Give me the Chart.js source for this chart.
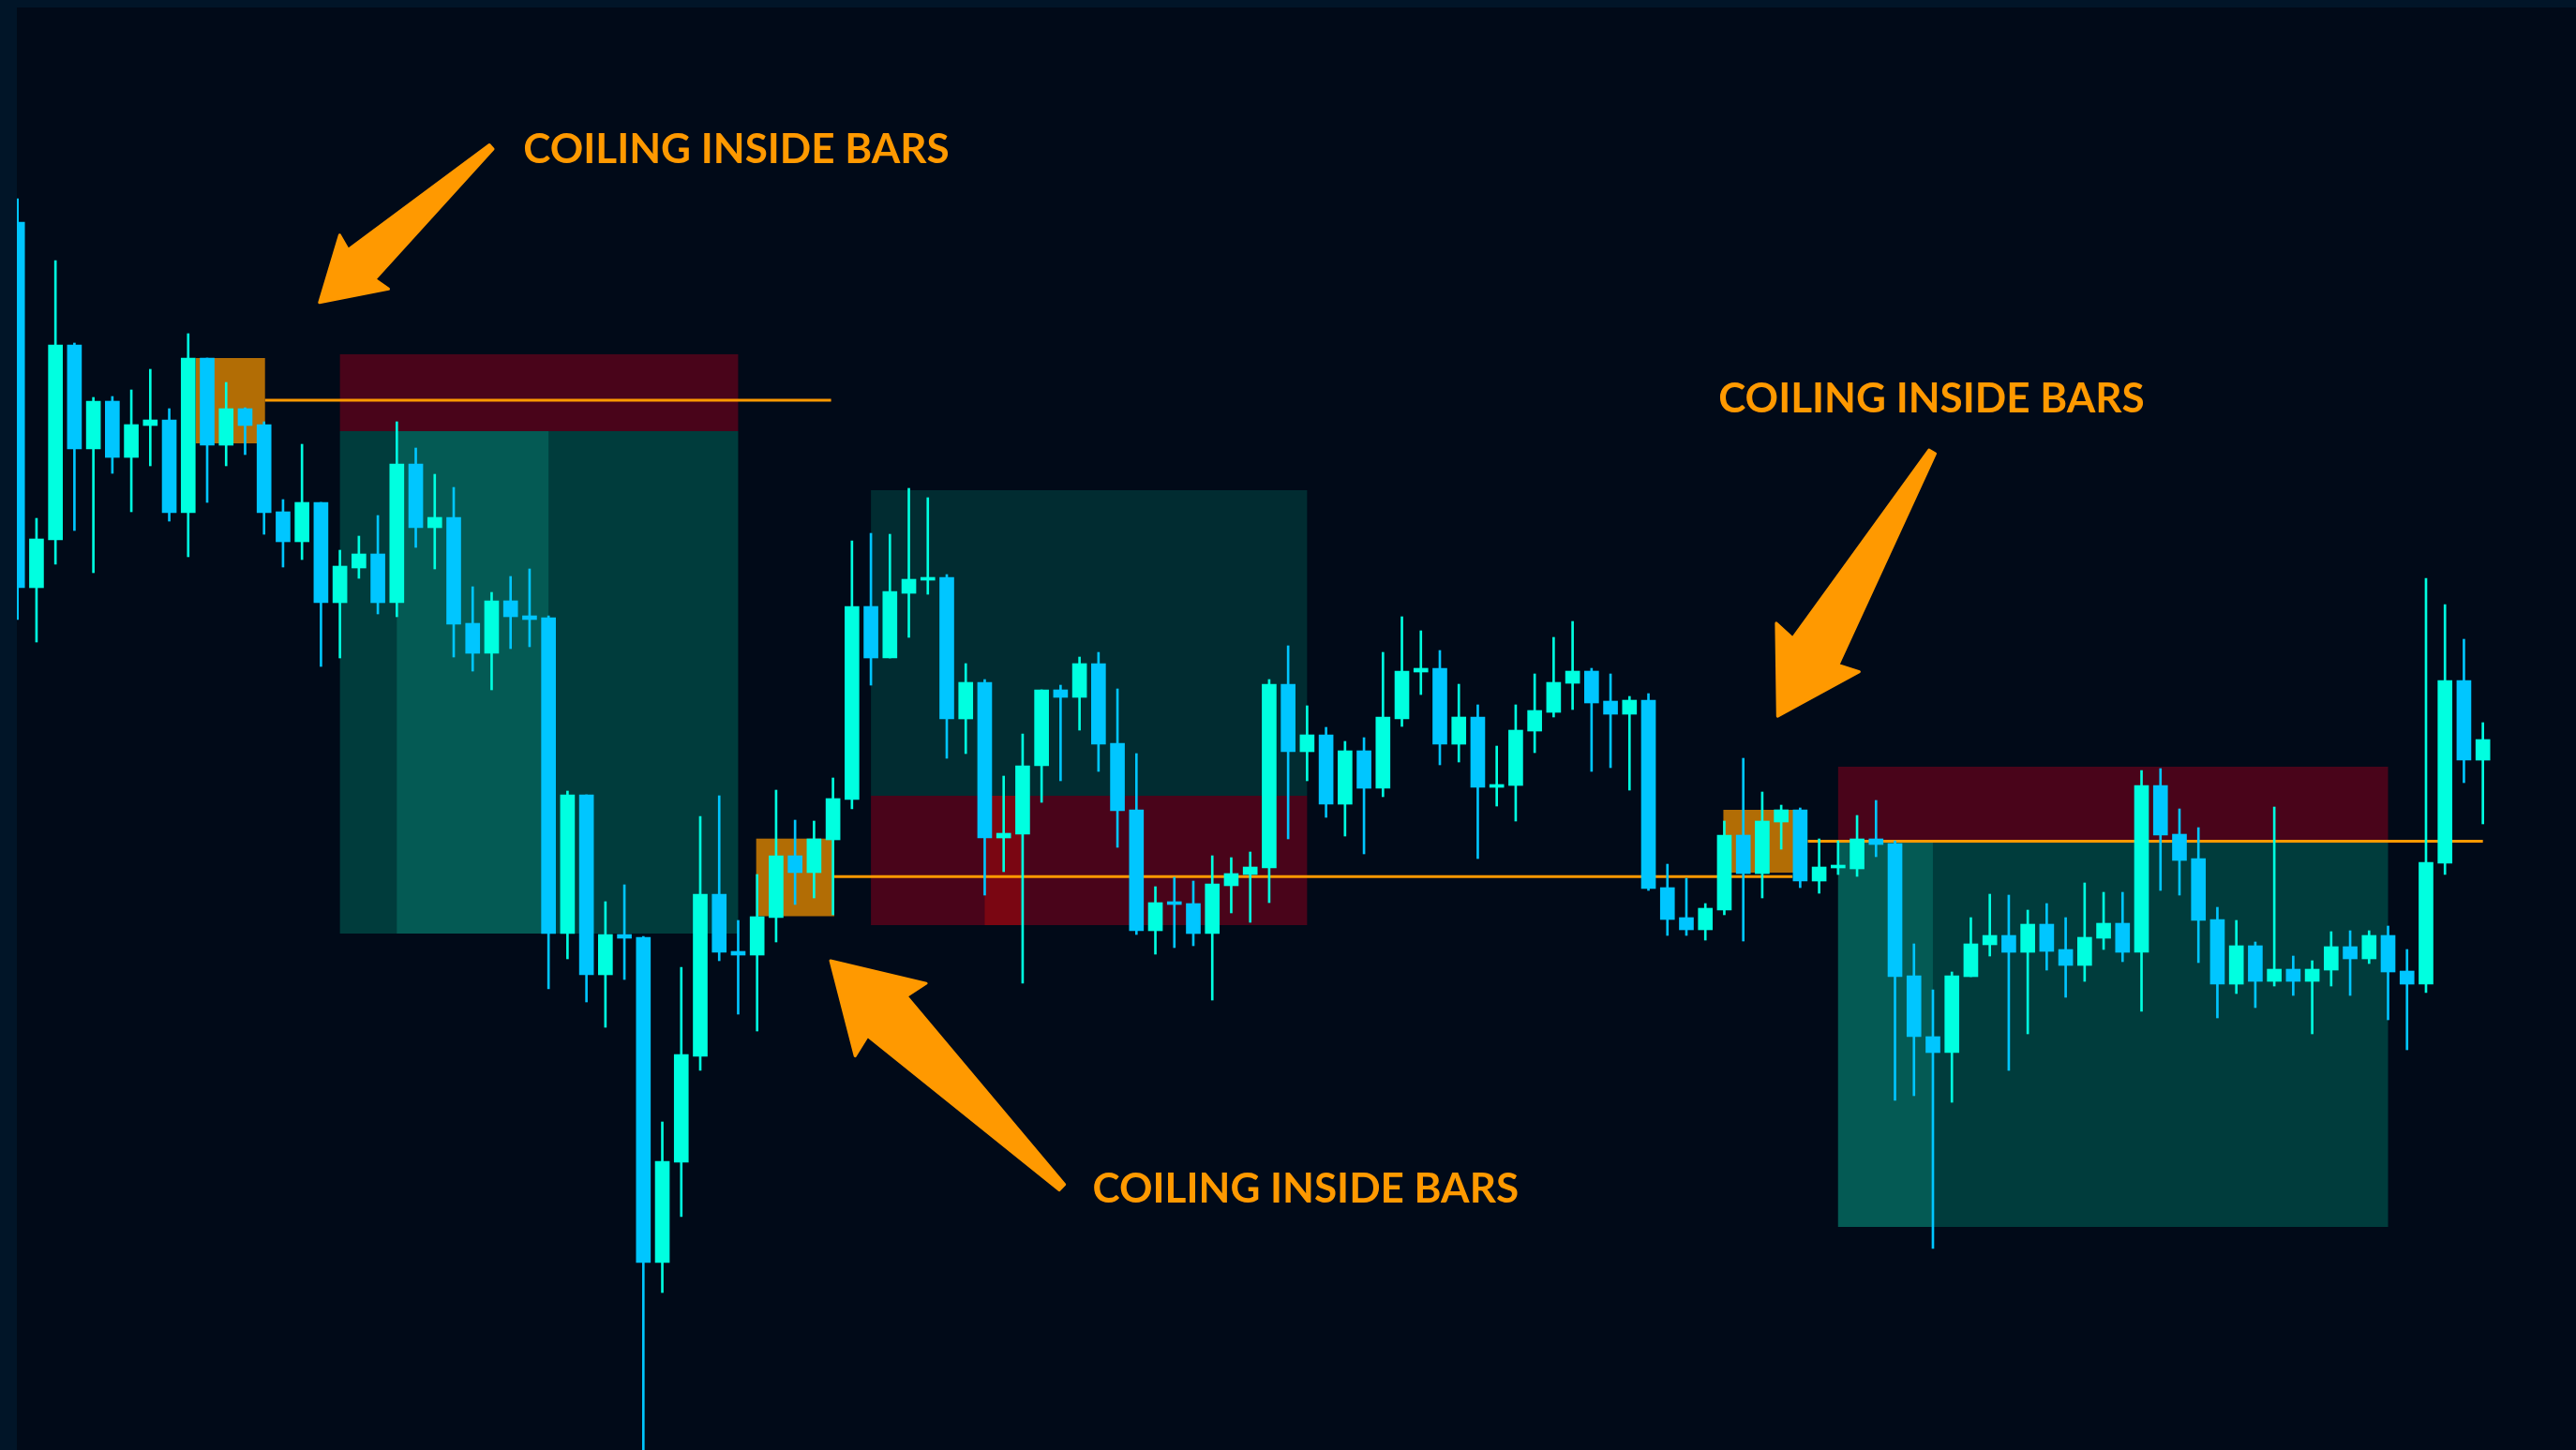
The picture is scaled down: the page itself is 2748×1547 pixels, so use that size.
<!DOCTYPE html>
<html>
<head>
<meta charset="utf-8">
<title>Coiling inside bars</title>
<script src="https://cdn.jsdelivr.net/npm/chart.js@4.4.1/dist/chart.umd.min.js"></script>
<style>
  html, body { margin: 0; padding: 0; background: #010a18; overflow: hidden; }
  canvas { display: block; }
</style>
</head>
<body>
<canvas id="chart" width="2748" height="1547"></canvas>
<script>
// ---- price data (one entry per bar) ----
const opens = [1310,920,971,1179,1068,1119,1059,1093,1099,1000,1165,1072,1111,1094,1001,969,1011,904,941,956,
  904,1052,984,995,882,850,906,890,888,551,699,507,550,547,200,307,420,593,532,528,
  568,634,616,651,694,900,845,914,928,931,780,819,653,657,730,811,803,839,754,683,
  554,585,583,551,602,614,621,817,745,763,689,746,706,780,830,834,753,782,707,709,
  767,787,818,831,799,785,800,600,568,555,576,656,615,670,683,607,621,620,652,647,
  506,441,424,505,539,549,531,561,534,517,546,562,531,709,657,631,566,497,538,500,
  513,500,512,537,524,549,511,497,626,821,736];
const highs = [1335,994,1269,1181,1123,1124,1131,1153,1111,1191,1165,1139,1112,1097,1014,1073,1011,960,975,997,
  1097,1069,1041,1027,921,915,932,940,890,703,699,585,603,548,350,515,676,698,565,614,
  704,672,671,717,970,978,977,1026,1016,934,839,822,719,764,811,816,846,851,812,743,
  601,611,607,634,632,638,822,858,794,771,756,760,851,889,874,853,817,795,751,795,
  828,867,884,834,828,804,807,625,610,583,671,738,702,688,685,652,650,677,693,650,
  540,491,510,568,593,592,576,583,568,605,595,595,725,727,684,664,579,565,542,686,
  527,522,553,554,554,559,534,930,902,865,776];
const lows = [886,862,945,981,936,1042,1001,1050,991,953,1011,1050,1062,977,942,950,836,845,930,892,
  889,963,940,846,831,811,855,857,492,524,478,451,502,-10,168,249,405,522,465,447,
  542,582,589,571,684,816,845,867,913,738,743,592,617,498,691,714,768,724,643,550,
  529,536,538,480,573,563,584,652,714,675,655,636,697,772,806,731,734,631,687,671,
  744,782,790,724,728,704,597,549,549,544,571,543,589,641,600,594,614,612,633,373,
  378,215,371,505,527,405,444,512,483,500,534,521,468,597,592,520,461,487,472,495,
  485,444,495,485,519,459,427,488,614,712,668];
const closes = [920,972,1179,1068,1119,1059,1094,1099,1000,1165,1072,1111,1093,1000,969,1011,904,943,956,904,
  1052,984,995,881,850,906,889,886,551,699,507,550,546,200,308,422,593,531,528,569,
  634,616,652,695,900,845,916,929,931,780,819,653,658,730,811,803,839,753,682,554,
  584,582,551,604,615,622,817,745,763,689,746,706,782,831,834,753,782,707,710,768,
  789,819,831,797,785,800,599,566,555,578,656,615,671,683,607,622,622,652,646,505,
  441,424,506,540,549,531,561,532,517,547,562,531,709,656,629,565,497,538,500,513,
  500,513,537,524,549,510,497,627,821,736,758];

// ---- trade zones (bar index range, price range) ----
const stopZones   = [[17, 38, 1087, 1169], [45, 68, 560, 698], [96, 125, 649.5, 729]];
const targetZones = [[17, 38, 551, 1087], [45, 68, 698, 1024], [96, 125, 238, 649.5]];
const activeTarget = [[20, 28, 551, 1087], [96, 101, 238, 649.5]];
const activeStop   = [[51, 53, 560, 698]];
const coilBoxes    = [[9.4, 13.05, 1074, 1165], [38.95, 43.07, 569.5, 652.3], [89.95, 93.65, 616, 683]];
const coilLevels   = [[13.05, 42.9, 1120], [43.07, 93.6, 611.8], [94.4, 130, 649.5]];

// ---- callouts: [tail bar, tail price, tip bar, tip price] and label anchors ----
const arrows = [[24.98, 1390.3, 15.92, 1224.3], [55.07, 280.3, 42.87, 522], [100.96, 1065, 92.81, 782.9]];
const labelText = 'COILING INSIDE BARS';
const labels = [[26.67, 1372.7], [56.69, 263.7], [89.69, 1106.6]];

const UP = '#00ffe0';
const DOWN = '#00c6ff';
const ORANGE = '#ff9900';

const bars = closes.map((_, i) => i);
const isUp = i => closes[i] >= opens[i];
const colours = bars.map(i => isUp(i) ? UP : DOWN);

const frame = {
  id: 'frame',
  beforeDraw(chart) {
    const { ctx, width, height } = chart;
    ctx.save();
    ctx.fillStyle = '#010a18';
    ctx.fillRect(0, 0, width, height);
    ctx.restore();
  },
  afterDraw(chart) {
    const { ctx, width, height } = chart;
    ctx.save();
    ctx.fillStyle = '#011528';
    ctx.fillRect(0, 0, 18, height);
    ctx.fillRect(0, 0, width, 8);
    ctx.restore();
  }
};

const zones = {
  id: 'zones',
  beforeDatasetsDraw(chart) {
    const { ctx } = chart;
    const X = v => chart.scales.x.getPixelForValue(v);
    const Y = v => chart.scales.y.getPixelForValue(v);
    const rect = (z, fill) => {
      const x0 = X(z[0]), x1 = X(z[1]), y0 = Y(z[3]), y1 = Y(z[2]);
      ctx.fillStyle = fill;
      ctx.fillRect(x0, y0, x1 - x0, y1 - y0);
    };
    ctx.save();
    stopZones.forEach(z => rect(z, '#49041a'));
    targetZones.forEach((z, k) => rect(z, k === 1 ? '#012c31' : '#003c3c'));
    activeTarget.forEach(z => rect(z, '#045a54'));
    activeStop.forEach(z => rect(z, '#7a0612'));
    coilBoxes.forEach(z => rect(z, '#b26d05'));
    ctx.strokeStyle = ORANGE;
    ctx.lineWidth = 3;
    coilLevels.forEach(l => {
      ctx.beginPath();
      ctx.moveTo(X(l[0]), Y(l[2]));
      ctx.lineTo(X(l[1]), Y(l[2]));
      ctx.stroke();
    });
    ctx.restore();
  }
};

const callouts = {
  id: 'callouts',
  afterDatasetsDraw(chart) {
    const { ctx } = chart;
    const X = v => chart.scales.x.getPixelForValue(v);
    const Y = v => chart.scales.y.getPixelForValue(v);
    ctx.save();
    ctx.fillStyle = ORANGE;
    ctx.strokeStyle = ORANGE;
    ctx.lineJoin = 'round';
    ctx.lineWidth = 3;
    arrows.forEach(a => {
      const tx = X(a[0]), ty = Y(a[1]), hx = X(a[2]), hy = Y(a[3]);
      const L = Math.hypot(hx - tx, hy - ty);
      const ux = (hx - tx) / L, uy = (hy - ty) / L;   // along the shaft
      const nx = -uy, ny = ux;                        // across the shaft
      const pt = (back, side) => [hx - ux * back + nx * side, hy - uy * back + ny * side];
      const head = 0.26 * L, barb = 0.157 * L, shaft = 0.086 * L, tail = 0.012 * L;
      const pts = [
        pt(0, 0), pt(head, barb), pt(head * 0.94, shaft), pt(L, tail),
        pt(L, -tail), pt(head * 0.94, -shaft), pt(head, -barb)
      ];
      ctx.beginPath();
      pts.forEach((p, k) => k ? ctx.lineTo(p[0], p[1]) : ctx.moveTo(p[0], p[1]));
      ctx.closePath();
      ctx.fill();
      ctx.stroke();
    });
    ctx.font = '700 44px Lato, "Open Sans", sans-serif';
    ctx.textBaseline = 'alphabetic';
    ctx.textAlign = 'left';
    labels.forEach(l => ctx.fillText(labelText, X(l[0]), Y(l[1])));
    ctx.restore();
  }
};

new Chart(document.getElementById('chart'), {
  type: 'bar',
  data: {
    datasets: [
      {
        label: 'Body',
        data: bars.map(i => ({ x: i, y: [Math.min(opens[i], closes[i]), Math.max(opens[i], closes[i])] })),
        backgroundColor: colours,
        barThickness: 15,
        minBarLength: 3,
        grouped: false,
        order: 1
      },
      {
        label: 'Wick',
        data: bars.map(i => ({ x: i, y: [lows[i], highs[i]] })),
        backgroundColor: colours,
        barThickness: 2,
        grouped: false,
        order: 2
      }
    ]
  },
  options: {
    responsive: false,
    animation: false,
    devicePixelRatio: 1,
    layout: { padding: 0 },
    scales: {
      x: { type: 'linear', min: -0.9244, max: 134.91, display: false, offset: false },
      y: { type: 'linear', min: 0, max: 1547, display: false }
    },
    plugins: { legend: { display: false }, tooltip: { enabled: false } }
  },
  plugins: [frame, zones, callouts]
});
</script>
</body>
</html>
